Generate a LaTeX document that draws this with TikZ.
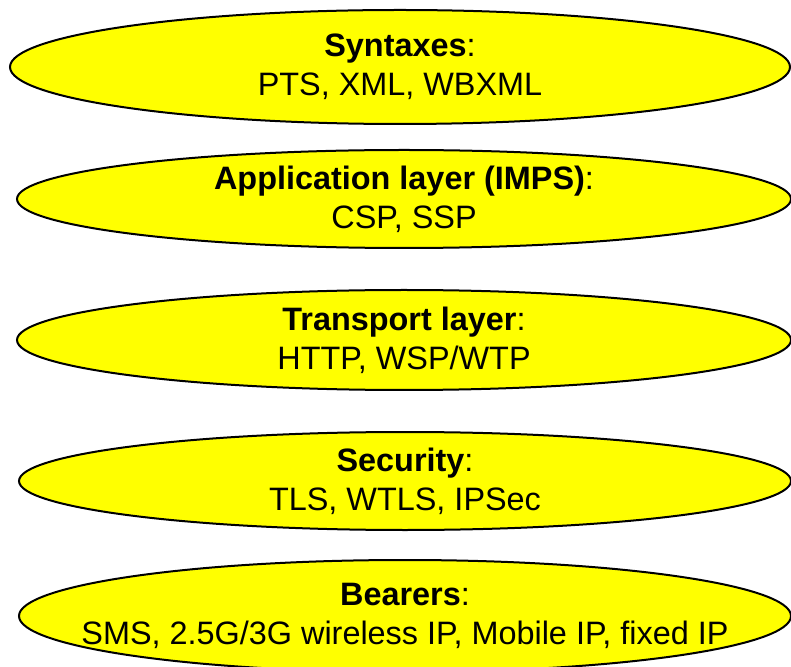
\documentclass[tikz,border=0pt]{standalone}
\usepackage{fontspec}
\setmainfont{Liberation Sans}
\usetikzlibrary{shapes.geometric}
\definecolor{layeryellow}{RGB}{255,255,0}

\begin{document}
\begin{tikzpicture}[x=0.5pt, y=-0.5pt,
    layer/.style={ellipse, draw=black, line width=1pt, fill=layeryellow, inner sep=0pt},
    caption/.style={align=center, font=\fontsize{16.2}{19.5}\selectfont}]
    \useasboundingbox (0,0) rectangle (791,667);
    % the five layers, top to bottom
    \node[layer, minimum width=390pt, minimum height=57pt] (syntax) at (400,67) {};
    \node[layer, minimum width=387pt, minimum height=49pt] (app) at (404,199) {};
    \node[layer, minimum width=387pt, minimum height=50pt] (transport) at (404,340) {};
    \node[layer, minimum width=386pt, minimum height=49pt] (security) at (405,481) {};
    \node[layer, minimum width=386pt, minimum height=56pt] (bearer) at (405,616) {};
    % texts
    \node[caption] (syntaxtext) at (syntax) {\textbf{Syntaxes}:\\PTS, XML, WBXML};
    \node[caption] (apptext) at (app) {\textbf{Application layer (IMPS)}:\\CSP, SSP};
    \node[caption] (transporttext) at (transport) {\textbf{Transport layer}:\\HTTP, WSP/WTP};
    \node[caption] (securitytext) at (security) {\textbf{Security}:\\TLS, WTLS, IPSec};
    \node[caption] (bearertext) at (bearer) {\textbf{Bearers}:\\SMS, 2.5G/3G wireless IP, Mobile IP, fixed IP};
\end{tikzpicture}
\end{document}
